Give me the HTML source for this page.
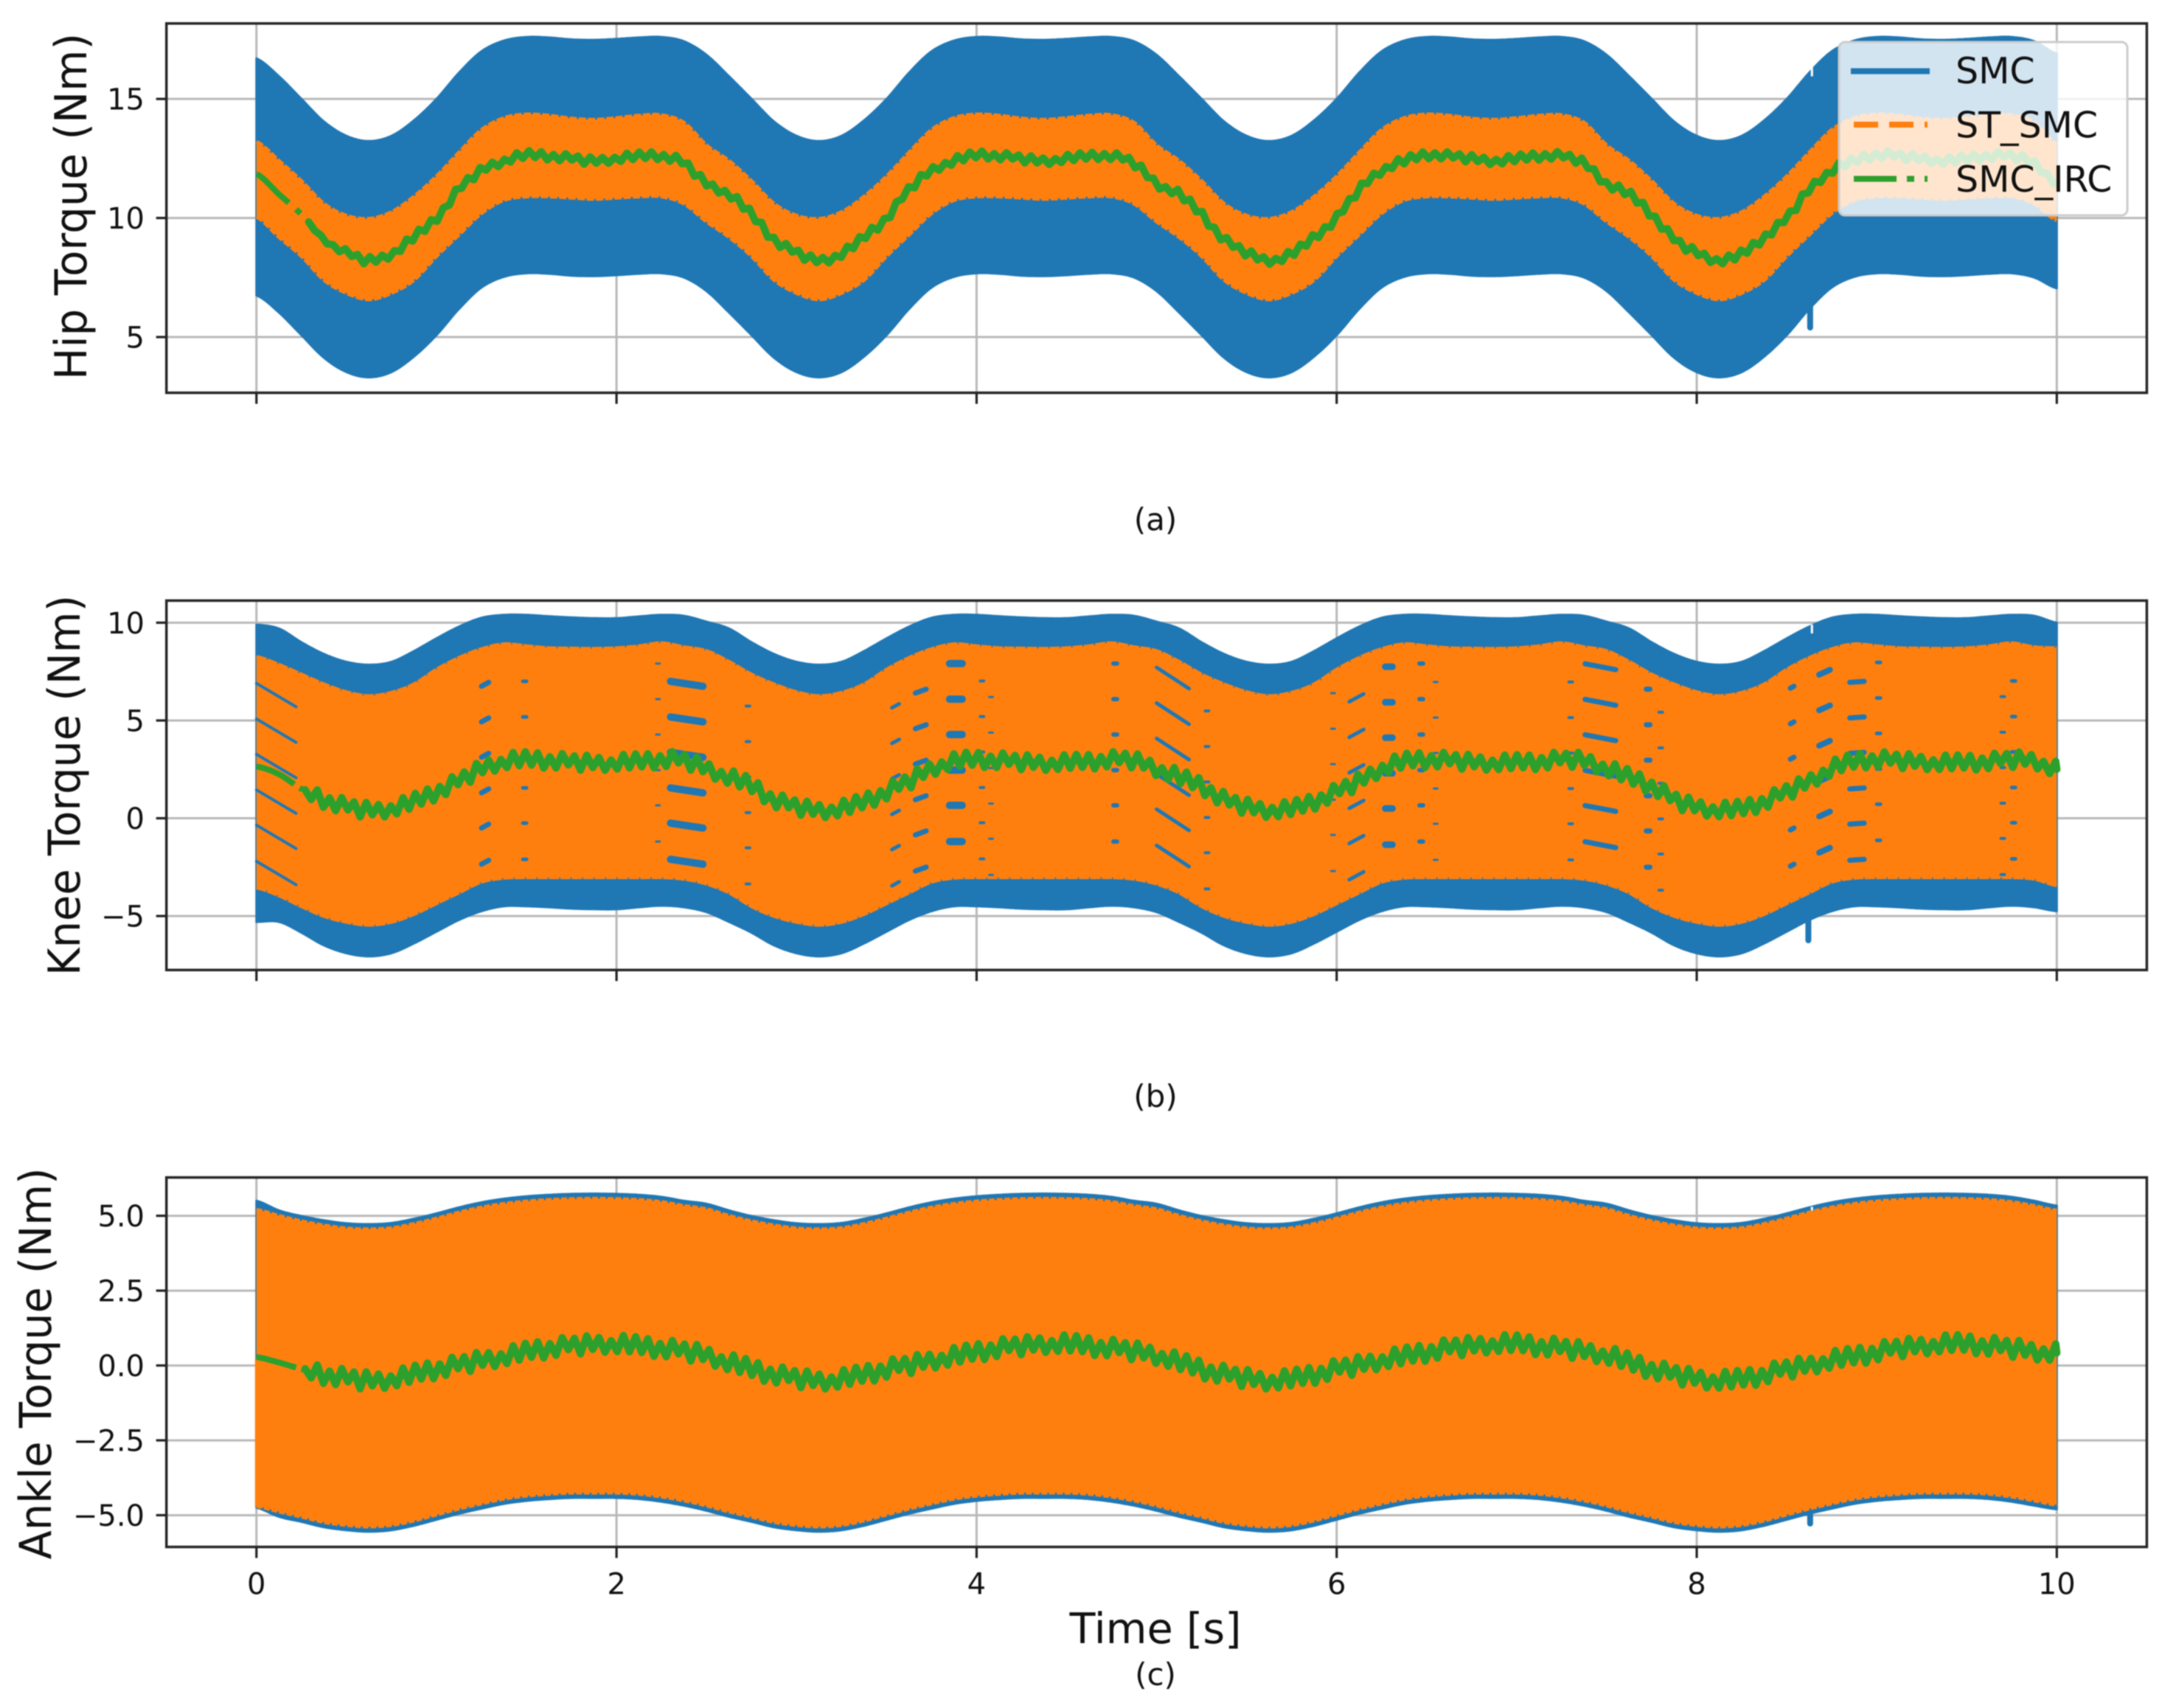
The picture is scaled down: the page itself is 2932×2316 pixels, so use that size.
<!DOCTYPE html>
<html lang="en">
<head>
<meta charset="utf-8">
<title>Hip, knee and ankle torque comparison</title>
<style>
html,body{margin:0;padding:0;background:#fff;width:2932px;height:2316px;overflow:hidden}
#figure{display:block;filter:blur(0.7px)}
text{font-family:"DejaVu Sans","Liberation Sans",sans-serif;fill:#111}
</style>
</head>
<body>
<svg id="figure" xmlns="http://www.w3.org/2000/svg" width="2932" height="2316" viewBox="0 0 2932 2316">
  <rect width="2932" height="2316" fill="#fff"/>
  <g id="panels"></g>
  <text x="1567" y="2228" font-size="57" text-anchor="middle" textLength="233" lengthAdjust="spacingAndGlyphs">Time [s]</text>
  <text x="1567" y="719" font-size="42" text-anchor="middle">(a)</text>
  <text x="1567" y="1501" font-size="42" text-anchor="middle">(b)</text>
  <text x="1567" y="2285" font-size="42" text-anchor="middle">(c)</text>
  <g>
    <rect x="2494" y="57" width="391" height="235" rx="8" fill="#fff" fill-opacity="0.8" stroke="#cccccc" stroke-width="3"/>
    <g>
      <line x1="2510" x2="2617" y1="96.5" y2="96.5" stroke="#1f77b4" stroke-width="8"/>
      <text x="2652" y="113" font-size="49">SMC</text>
    </g>
    <g>
      <line x1="2514" x2="2614" y1="169" y2="169" stroke="#ff7f0e" stroke-width="8" stroke-dasharray="33 15"/>
      <text x="2652" y="186.5" font-size="49">ST_SMC</text>
    </g>
    <g>
      <line x1="2514" x2="2614" y1="242.5" y2="242.5" stroke="#2ca02c" stroke-width="8" stroke-dasharray="58 14 10 14"/>
      <text x="2652" y="260" font-size="49">SMC_IRC</text>
    </g>
  </g>
</svg>
<script>
/* ---------- shared categories and tick labels ---------- */
const sampleTimes = [
0,0.125,0.25,0.375,0.5,0.625,0.75,0.875,1,1.125,1.25,1.375,1.5,1.625,1.75,1.875,2,2.125,2.25,2.375,
2.5,2.625,2.75,2.875,3,3.125,3.25,3.375,3.5,3.625,3.75,3.875,4,4.125,4.25,4.375,4.5,4.625,4.75,4.875,
5,5.125,5.25,5.375,5.5,5.625,5.75,5.875,6,6.125,6.25,6.375,6.5,6.625,6.75,6.875,7,7.125,7.25,7.375,
7.5,7.625,7.75,7.875,8,8.125,8.25,8.375,8.5,8.625,8.75,8.875,9,9.125,9.25,9.375,9.5,9.625,9.75,9.875,10];
const xTickValues = [0,2,4,6,8,10];
const xTickLabels = ['0','2','4','6','8','10'];
const hipTickValues = [5,10,15];
const hipTickLabels = ['5','10','15'];
const kneeTickValues = [-5,0,5,10];
const kneeTickLabels = ['\u22125','0','5','10'];
const ankleTickValues = [-5,-2.5,0,2.5,5];
const ankleTickLabels = ['\u22125.0','\u22122.5','0.0','2.5','5.0'];

/* ---------- hip torque ---------- */
const hipSmcUpper = [
16.7,15.95,15,14.05,13.45,13.23,13.45,14.1,15,16.1,17,17.45,17.6,17.58,17.5,17.48,17.52,17.58,17.6,17.42,
16.85,15.95,15,14.05,13.45,13.23,13.45,14.1,15,16.1,17,17.45,17.6,17.58,17.5,17.48,17.52,17.58,17.6,17.42,
16.85,15.95,15,14.05,13.45,13.23,13.45,14.1,15,16.1,17,17.45,17.6,17.58,17.5,17.48,17.52,17.58,17.6,17.42,
16.85,15.95,15,14.05,13.45,13.23,13.45,14.1,15,16.1,17,17.45,17.6,17.58,17.5,17.48,17.52,17.58,17.6,17.42,
16.9];
const hipSmcLower = [
6.75,6.03,5.08,4.13,3.53,3.31,3.53,4.18,5.08,6.18,7.08,7.53,7.68,7.66,7.58,7.56,7.6,7.66,7.68,7.5,
6.93,6.03,5.08,4.13,3.53,3.31,3.53,4.18,5.08,6.18,7.08,7.53,7.68,7.66,7.58,7.56,7.6,7.66,7.68,7.5,
6.93,6.03,5.08,4.13,3.53,3.31,3.53,4.18,5.08,6.18,7.08,7.53,7.68,7.66,7.58,7.56,7.6,7.66,7.68,7.5,
6.93,6.03,5.08,4.13,3.53,3.31,3.53,4.18,5.08,6.18,7.08,7.53,7.68,7.66,7.58,7.56,7.6,7.66,7.68,7.5,
7.05];
const hipStUpper = [
13.2,12.4,11.55,10.6,10.1,9.97,10.25,10.9,11.75,12.75,13.7,14.2,14.35,14.3,14.18,14.13,14.2,14.3,14.32,14,
13.05,12.4,11.55,10.6,10.1,9.97,10.25,10.9,11.75,12.75,13.7,14.2,14.35,14.3,14.18,14.13,14.2,14.3,14.32,14,
13.05,12.4,11.55,10.6,10.1,9.97,10.25,10.9,11.75,12.75,13.7,14.2,14.35,14.3,14.18,14.13,14.2,14.3,14.32,14,
13.05,12.4,11.55,10.6,10.1,9.97,10.25,10.9,11.75,12.75,13.7,14.2,14.35,14.3,14.18,14.13,14.2,14.3,14.32,14,
13.1];
const hipStLower = [
10.05,9.2,8.4,7.4,6.85,6.58,6.85,7.4,8.4,9.3,10.2,10.75,10.9,10.9,10.85,10.8,10.85,10.9,10.9,10.6,
9.85,9.2,8.4,7.4,6.85,6.58,6.85,7.4,8.4,9.3,10.2,10.75,10.9,10.9,10.85,10.8,10.85,10.9,10.9,10.6,
9.85,9.2,8.4,7.4,6.85,6.58,6.85,7.4,8.4,9.3,10.2,10.75,10.9,10.9,10.85,10.8,10.85,10.9,10.9,10.6,
9.85,9.2,8.4,7.4,6.85,6.58,6.85,7.4,8.4,9.3,10.2,10.75,10.9,10.9,10.85,10.8,10.85,10.9,10.9,10.6,
9.9];
const hipIrcMid = [
11.85,11,10.15,9.1,8.55,8.22,8.5,9.2,10,11.2,12,12.4,12.65,12.6,12.5,12.4,12.5,12.6,12.6,12.3,
11.45,11,10.15,9.1,8.55,8.22,8.5,9.2,10,11.2,12,12.4,12.65,12.6,12.5,12.4,12.5,12.6,12.6,12.3,
11.45,11,10.15,9.1,8.55,8.22,8.5,9.2,10,11.2,12,12.4,12.65,12.6,12.5,12.4,12.5,12.6,12.6,12.3,
11.45,11,10.15,9.1,8.55,8.22,8.5,9.2,10,11.2,12,12.4,12.65,12.6,12.5,12.4,12.5,12.6,12.6,12.3,
11.5];
const hipSpike = [8.63, 5.4];
const hipNotch = [8.64, 15.95, 16.4];
const hipIrcSwing = 0.17;
const hipIrcStart = [0, 0.18, 0.22, 0.245, 0.29];

/* ---------- knee torque ---------- */
const kneeSmcUpper = [
9.9,9.7,9,8.4,8,7.85,8,8.55,9.2,9.8,10.25,10.4,10.4,10.33,10.27,10.23,10.23,10.32,10.4,10.35,
10.05,9.7,9,8.4,8,7.85,8,8.55,9.2,9.8,10.25,10.4,10.4,10.33,10.27,10.23,10.23,10.32,10.4,10.35,
10.05,9.7,9,8.4,8,7.85,8,8.55,9.2,9.8,10.25,10.4,10.4,10.33,10.27,10.23,10.23,10.32,10.4,10.35,
10.05,9.7,9,8.4,8,7.85,8,8.55,9.2,9.8,10.25,10.4,10.4,10.33,10.27,10.23,10.23,10.32,10.4,10.35,
10];
const kneeSmcLower = [
-5.3,-5.3,-5.85,-6.5,-6.9,-7.06,-6.9,-6.4,-5.8,-5.2,-4.75,-4.5,-4.5,-4.55,-4.62,-4.65,-4.65,-4.55,-4.47,-4.55,
-4.8,-5.3,-5.85,-6.5,-6.9,-7.06,-6.9,-6.4,-5.8,-5.2,-4.75,-4.5,-4.5,-4.55,-4.62,-4.65,-4.65,-4.55,-4.47,-4.55,
-4.8,-5.3,-5.85,-6.5,-6.9,-7.06,-6.9,-6.4,-5.8,-5.2,-4.75,-4.5,-4.5,-4.55,-4.62,-4.65,-4.65,-4.55,-4.47,-4.55,
-4.8,-5.3,-5.85,-6.5,-6.9,-7.06,-6.9,-6.4,-5.8,-5.2,-4.75,-4.5,-4.5,-4.55,-4.62,-4.65,-4.65,-4.55,-4.47,-4.55,
-4.75];
const kneeStUpper = [
8.25,7.85,7.35,6.85,6.45,6.25,6.42,6.85,7.6,8.2,8.65,8.9,8.8,8.7,8.68,8.67,8.7,8.8,8.95,8.75,
8.55,8,7.35,6.85,6.45,6.25,6.42,6.85,7.6,8.2,8.65,8.9,8.8,8.7,8.68,8.67,8.7,8.8,8.95,8.75,
8.55,8,7.35,6.85,6.45,6.25,6.42,6.85,7.6,8.2,8.65,8.9,8.8,8.7,8.68,8.67,8.7,8.8,8.95,8.75,
8.55,8,7.35,6.85,6.45,6.25,6.42,6.85,7.6,8.2,8.65,8.9,8.8,8.7,8.68,8.67,8.7,8.8,8.95,8.75,
8.7];
const kneeStLower = [
-3.55,-3.95,-4.5,-5,-5.3,-5.45,-5.3,-4.9,-4.35,-3.8,-3.25,-3.05,-3.02,-3.02,-3.02,-3.02,-3.02,-3.02,-3.02,-3.1,
-3.35,-3.8,-4.5,-5,-5.3,-5.45,-5.3,-4.9,-4.35,-3.8,-3.25,-3.05,-3.02,-3.02,-3.02,-3.02,-3.02,-3.02,-3.02,-3.1,
-3.35,-3.8,-4.5,-5,-5.3,-5.45,-5.3,-4.9,-4.35,-3.8,-3.25,-3.05,-3.02,-3.02,-3.02,-3.02,-3.02,-3.02,-3.02,-3.1,
-3.35,-3.8,-4.5,-5,-5.3,-5.45,-5.3,-4.9,-4.35,-3.8,-3.25,-3.05,-3.02,-3.02,-3.02,-3.02,-3.02,-3.02,-3.02,-3.1,
-3.43];
const kneeIrcMid = [
2.65,2.25,1.5,0.95,0.6,0.42,0.5,0.85,1.35,1.9,2.55,2.9,3,2.95,2.88,2.83,2.85,2.9,3,2.95,
2.55,2.1,1.65,0.95,0.6,0.42,0.5,0.85,1.35,1.9,2.55,2.9,3,2.95,2.88,2.83,2.85,2.9,3,2.95,
2.55,2.1,1.65,0.95,0.6,0.42,0.5,0.85,1.35,1.9,2.55,2.9,3,2.95,2.88,2.83,2.85,2.9,3,2.95,
2.55,2.1,1.65,0.95,0.6,0.42,0.5,0.85,1.35,1.9,2.55,2.9,3,2.95,2.88,2.83,2.85,2.9,3,2.95,
2.5];
const kneeSpike = [8.62, -6.24];
const kneeNotch = [8.64, 9.45, 9.9];
const kneeIrcSwing = 0.4;
const kneeIrcStart = [0, 0.21, 0.24, 0.255, 0.27];
/* places where the SMC trace shows through the ST_SMC band */
const kneeGapRowDrop = [0,1.82,3.63,5.45,7.25,9.1];
const kneeGapStart = [0,1.25,1.48,2.22,2.3,2.72,3.53,3.66,3.85,4.02,4.07,4.76,5,5.27,5.97,6.07,6.27,6.46,6.54,7.29,7.38,7.72,7.79,8.52,8.68,8.85,9,9.69,9.75];
const kneeGapEnd   = [0.22,1.29,1.5,2.24,2.48,2.74,3.57,3.72,3.92,4.04,4.09,4.78,5.18,5.29,5.99,6.15,6.31,6.48,6.56,7.31,7.55,7.74,7.81,8.54,8.74,8.93,9.02,9.71,9.77];
const kneeGapFrom  = [6.9,6.75,7,7.91,7,5.74,5.65,6.4,7.91,7.02,6.2,7.91,7.71,5.49,6.4,5.96,7.75,7.91,6.97,6.97,7.9,6.6,5.42,6.65,7.34,6.95,7.97,6.22,7.02];
const kneeGapTo    = [5.7,6.95,7,7.91,6.75,5.74,5.85,6.6,7.91,7.02,6.2,7.91,6.63,5.49,6.4,6.36,7.75,7.91,6.97,6.97,7.6,6.6,5.42,6.75,7.59,7,7.97,6.22,7.02];
const kneeGapSize  = [4,7,5,3,10,4,5,7,10,4,3,6,5,4,3,5,9,6,3,4,7,7,4,7,8,7,5,4,5];

/* ---------- ankle torque ---------- */
const ankleSmcUpper = [
5.5,5.18,4.99,4.85,4.75,4.72,4.76,4.9,5.08,5.28,5.45,5.57,5.65,5.7,5.73,5.74,5.73,5.7,5.63,5.5,
5.4,5.18,4.99,4.85,4.75,4.72,4.76,4.9,5.08,5.28,5.45,5.57,5.65,5.7,5.73,5.74,5.73,5.7,5.63,5.5,
5.4,5.18,4.99,4.85,4.75,4.72,4.76,4.9,5.08,5.28,5.45,5.57,5.65,5.7,5.73,5.74,5.73,5.7,5.63,5.5,
5.4,5.18,4.99,4.85,4.75,4.72,4.76,4.9,5.08,5.28,5.45,5.57,5.65,5.7,5.73,5.74,5.73,5.7,5.63,5.5,
5.34];
const ankleSmcLower = [
-4.75,-5.05,-5.22,-5.4,-5.5,-5.55,-5.5,-5.35,-5.15,-4.95,-4.78,-4.62,-4.52,-4.46,-4.42,-4.42,-4.42,-4.46,-4.55,-4.68,
-4.85,-5.05,-5.22,-5.4,-5.5,-5.55,-5.5,-5.35,-5.15,-4.95,-4.78,-4.62,-4.52,-4.46,-4.42,-4.42,-4.42,-4.46,-4.55,-4.68,
-4.85,-5.05,-5.22,-5.4,-5.5,-5.55,-5.5,-5.35,-5.15,-4.95,-4.78,-4.62,-4.52,-4.46,-4.42,-4.42,-4.42,-4.46,-4.55,-4.68,
-4.85,-5.05,-5.22,-5.4,-5.5,-5.55,-5.5,-5.35,-5.15,-4.95,-4.78,-4.62,-4.52,-4.46,-4.42,-4.42,-4.42,-4.46,-4.55,-4.68,
-4.8];
const ankleStUpper = [
5.2,5,4.82,4.68,4.58,4.55,4.59,4.73,4.91,5.11,5.28,5.4,5.48,5.53,5.56,5.57,5.56,5.53,5.46,5.33,
5.22,5,4.82,4.68,4.58,4.55,4.59,4.73,4.91,5.11,5.28,5.4,5.48,5.53,5.56,5.57,5.56,5.53,5.46,5.33,
5.22,5,4.82,4.68,4.58,4.55,4.59,4.73,4.91,5.11,5.28,5.4,5.48,5.53,5.56,5.57,5.56,5.53,5.46,5.33,
5.22,5,4.82,4.68,4.58,4.55,4.59,4.73,4.91,5.11,5.28,5.4,5.48,5.53,5.56,5.57,5.56,5.53,5.46,5.33,
5.18];
const ankleStLower = [
-4.7,-4.88,-5.05,-5.23,-5.33,-5.38,-5.33,-5.18,-4.98,-4.78,-4.61,-4.45,-4.35,-4.29,-4.25,-4.25,-4.25,-4.29,-4.38,-4.51,
-4.68,-4.88,-5.05,-5.23,-5.33,-5.38,-5.33,-5.18,-4.98,-4.78,-4.61,-4.45,-4.35,-4.29,-4.25,-4.25,-4.25,-4.29,-4.38,-4.51,
-4.68,-4.88,-5.05,-5.23,-5.33,-5.38,-5.33,-5.18,-4.98,-4.78,-4.61,-4.45,-4.35,-4.29,-4.25,-4.25,-4.25,-4.29,-4.38,-4.51,
-4.68,-4.88,-5.05,-5.23,-5.33,-5.38,-5.33,-5.18,-4.98,-4.78,-4.61,-4.45,-4.35,-4.29,-4.25,-4.25,-4.25,-4.29,-4.38,-4.51,
-4.65];
const ankleIrcMid = [
0.28,0.1,-0.12,-0.3,-0.42,-0.5,-0.45,-0.3,-0.12,0.02,0.18,0.3,0.45,0.58,0.66,0.72,0.72,0.65,0.58,0.48,
0.35,0.1,-0.12,-0.3,-0.42,-0.5,-0.45,-0.3,-0.12,0.02,0.18,0.3,0.45,0.58,0.66,0.72,0.72,0.65,0.58,0.48,
0.35,0.1,-0.12,-0.3,-0.42,-0.5,-0.45,-0.3,-0.12,0.02,0.18,0.3,0.45,0.58,0.66,0.72,0.72,0.65,0.58,0.48,
0.35,0.1,-0.12,-0.3,-0.42,-0.5,-0.45,-0.3,-0.12,0.02,0.18,0.3,0.45,0.58,0.66,0.72,0.72,0.65,0.58,0.48,
0.42];
const ankleSpike = [8.63, -5.28];
const ankleNotch = [8.64, 5.15, 5.3];
const ankleIrcSwing = 0.3;
const ankleIrcStart = [0, 0.22, 0.25, 0.26, 0.27];

/* irregular shape of the fast SMC_IRC oscillation (relative amplitude of successive peaks) */
const ircWiggleShape = [1,-0.7,0.9,-1,0.5,-0.9,1,-0.4,0.8,-1,0.95,-0.6,0.7,-0.95,0.35,-0.85,1,-0.75];

/* ---------- drawing ---------- */
const SVG_NS = 'http://www.w3.org/2000/svg';
const panelRoot = document.getElementById('panels');
const xDomain = [-0.5, 10.5];
const plotLeft = 225.7, plotRight = 2911.4;
function xScale(t){ return plotLeft + (t - xDomain[0]) / (xDomain[1] - xDomain[0]) * (plotRight - plotLeft); }
function makeYScale(box){ return v => box.bottom - (v - box.min) / (box.max - box.min) * (box.bottom - box.top); }
function sampleAt(values, t){
  const h = sampleTimes[1] - sampleTimes[0];
  let i = Math.min(Math.floor(t / h), sampleTimes.length - 2);
  if (i < 0) i = 0;
  const u = (t - sampleTimes[i]) / h;
  const p0 = values[Math.max(i - 1, 0)], p1 = values[i], p2 = values[i + 1], p3 = values[Math.min(i + 2, values.length - 1)];
  return 0.5 * ((2 * p1) + (-p0 + p2) * u + (2 * p0 - 5 * p1 + 4 * p2 - p3) * u * u + (-p0 + 3 * p1 - 3 * p2 + p3) * u * u * u);
}
function create(tag, attrs, parent){
  const el = document.createElementNS(SVG_NS, tag);
  for (const k in attrs) el.setAttribute(k, attrs[k]);
  parent.appendChild(el);
  return el;
}
function edgePoints(values, y){
  const pts = [];
  for (let n = 0; n <= 1000; n++){
    const t = n / 100;
    pts.push(xScale(t).toFixed(1) + ',' + y(sampleAt(values, t)).toFixed(1));
  }
  return pts;
}

const panels = [
 {key:'hip', title:'Hip Torque (Nm)', titleX:117, titleY:280, titleLen:470,
  box:{top:31.8,bottom:532.6,min:2.66,max:18.17},
  ticks:hipTickValues, tickLabels:hipTickLabels,
  smcU:hipSmcUpper, smcL:hipSmcLower, stU:hipStUpper, stL:hipStLower, mid:hipIrcMid,
  swing:hipIrcSwing, start:hipIrcStart, ramp:0.3, spike:hipSpike, notch:hipNotch, showX:false, dash:'10 2.5'},
 {key:'knee', title:'Knee Torque (Nm)', titleX:108, titleY:1065, titleLen:516,
  box:{top:814.4,bottom:1315.3,min:-7.76,max:11.13},
  ticks:kneeTickValues, tickLabels:kneeTickLabels,
  smcU:kneeSmcUpper, smcL:kneeSmcLower, stU:kneeStUpper, stL:kneeStLower, mid:kneeIrcMid,
  swing:kneeIrcSwing, start:kneeIrcStart, ramp:0.02, spike:kneeSpike, notch:kneeNotch, showX:false, dash:'14 1.5'},
 {key:'ankle', title:'Ankle Torque (Nm)', titleX:69, titleY:1849, titleLen:531,
  box:{top:1596.6,bottom:2097.6,min:-6.06,max:6.28},
  ticks:ankleTickValues, tickLabels:ankleTickLabels,
  smcU:ankleSmcUpper, smcL:ankleSmcLower, stU:ankleStUpper, stL:ankleStLower, mid:ankleIrcMid,
  swing:ankleIrcSwing, start:ankleIrcStart, ramp:0.02, spike:ankleSpike, notch:ankleNotch, showX:true, dash:'8 2.5'}
];

panels.forEach(p => {
  const y = makeYScale(p.box);
  const g = create('g', {}, panelRoot);
  
  

  /* grid */
  xTickValues.forEach(t => {
    const line = create('line', {x1:xScale(t), x2:xScale(t), y1:p.box.top, y2:p.box.bottom, stroke:'#b8b8b8', 'stroke-width':3}, g);
    
    
  });
  p.ticks.forEach(v => {
    const line = create('line', {x1:plotLeft, x2:plotRight, y1:y(v), y2:y(v), stroke:'#b8b8b8', 'stroke-width':3}, g);
    
    
  });

  /* SMC band */
  const smcUp = edgePoints(p.smcU, y), smcDown = edgePoints(p.smcL, y).reverse();
  const smc = create('polygon', {points:smcUp.concat(smcDown).join(' '), fill:'#1f77b4', stroke:'#1f77b4', 'stroke-width':3, 'stroke-linejoin':'round'}, g);
  
  

  const spike = create('line', {x1:xScale(p.spike[0]), x2:xScale(p.spike[0]), y1:y(sampleAt(p.smcL, p.spike[0])) - 4, y2:y(p.spike[1]), stroke:'#1f77b4', 'stroke-width':8, 'stroke-linecap':'round'}, g);
  
  
  const notch = create('line', {x1:xScale(p.notch[0]), x2:xScale(p.notch[0]), y1:y(p.notch[1]), y2:y(p.notch[2]), stroke:'#ffffff', 'stroke-width':3}, g);
  
  

  /* ST_SMC band */
  const stUp = edgePoints(p.stU, y), stDown = edgePoints(p.stL, y);
  const st = create('polygon', {points:stUp.concat(stDown.slice().reverse()).join(' '), fill:'#ff7f0e'}, g);
  
  
  [stUp, stDown].forEach(edge => {
    const scallop = create('polyline', {points:edge.join(' '), fill:'none', stroke:'#ff7f0e', 'stroke-width':5, 'stroke-dasharray':p.dash}, g);
    
    
  });

  if (p.key === 'ankle'){
    const startEdge = create('line', {x1:xScale(0) + 1, x2:xScale(0) + 1, y1:y(0.25), y2:y(p.stL[0]), stroke:'#ff7f0e', 'stroke-width':6}, g);
    
    
  }

  /* SMC showing through gaps in the ST_SMC band */
  if (p.key === 'knee'){
    kneeGapStart.forEach((t0, i) => {
      kneeGapRowDrop.forEach(drop => {
        const gap = create('line', {x1:xScale(t0), x2:xScale(kneeGapEnd[i]), y1:y(kneeGapFrom[i] - drop), y2:y(kneeGapTo[i] - drop), stroke:'#1f77b4', 'stroke-width':kneeGapSize[i], 'stroke-linecap':'round'}, g);
        
        
      });
    });
  }

  /* SMC_IRC: thin start-up pieces, then fast oscillation */
  const head = [];
  for (let t = p.start[0]; t <= p.start[1] + 1e-6; t += 0.01) head.push(xScale(t).toFixed(1) + ',' + y(sampleAt(p.mid, t)).toFixed(1));
  const headLine = create('polyline', {points:head.join(' '), fill:'none', stroke:'#2ca02c', 'stroke-width':8}, g);
  
  
  const dot = create('line', {x1:xScale(p.start[2]), x2:xScale(p.start[3]), y1:y(sampleAt(p.mid, p.start[2])), y2:y(sampleAt(p.mid, p.start[3])), stroke:'#2ca02c', 'stroke-width':8}, g);
  
  
  const wig = [];
  let n = 0;
  for (let t = p.start[4]; t <= 10; t += 0.034){
    const amp = p.swing * Math.min(1, (t - p.start[4]) / p.ramp + 0.15);
    const v = sampleAt(p.mid, t) + amp * ircWiggleShape[n % ircWiggleShape.length];
    wig.push(xScale(t).toFixed(1) + ',' + y(v).toFixed(1));
    n++;
  }
  wig.push(xScale(10).toFixed(1) + ',' + y(sampleAt(p.mid, 10)).toFixed(1));
  const irc = create('polyline', {points:wig.join(' '), fill:'none', stroke:'#2ca02c', 'stroke-width':10, 'stroke-linejoin':'round', 'stroke-linecap':'round'}, g);
  
  

  /* frame */
  const frame = create('rect', {x:plotLeft, y:p.box.top, width:plotRight - plotLeft, height:p.box.bottom - p.box.top, fill:'none', stroke:'#262626', 'stroke-width':3.5}, g);
  
  

  /* ticks */
  xTickValues.forEach((t, i) => {
    const tick = create('line', {x1:xScale(t), x2:xScale(t), y1:p.box.bottom, y2:p.box.bottom + 15, stroke:'#222', 'stroke-width':3.2}, g);
    
    
    if (p.showX){
      const label = create('text', {x:xScale(t), y:p.box.bottom + 64, 'font-size':40, 'text-anchor':'middle'}, g);
      label.textContent = xTickLabels[i];
      
      
    }
  });
  p.ticks.forEach((v, i) => {
    const tick = create('line', {x1:plotLeft - 14, x2:plotLeft, y1:y(v), y2:y(v), stroke:'#222', 'stroke-width':3.2}, g);
    
    
    const label = create('text', {x:196, y:y(v) + 14.5, 'font-size':40, 'text-anchor':'end'}, g);
    label.textContent = p.tickLabels[i];
    
    
  });

  /* axis title */
  const title = create('text', {x:0, y:0, transform:'translate(' + p.titleX + ' ' + p.titleY + ') rotate(-90)', 'font-size':60, 'text-anchor':'middle', textLength:p.titleLen, lengthAdjust:'spacingAndGlyphs'}, g);
  title.textContent = p.title;
  
  
});
</script>
</body>
</html>
